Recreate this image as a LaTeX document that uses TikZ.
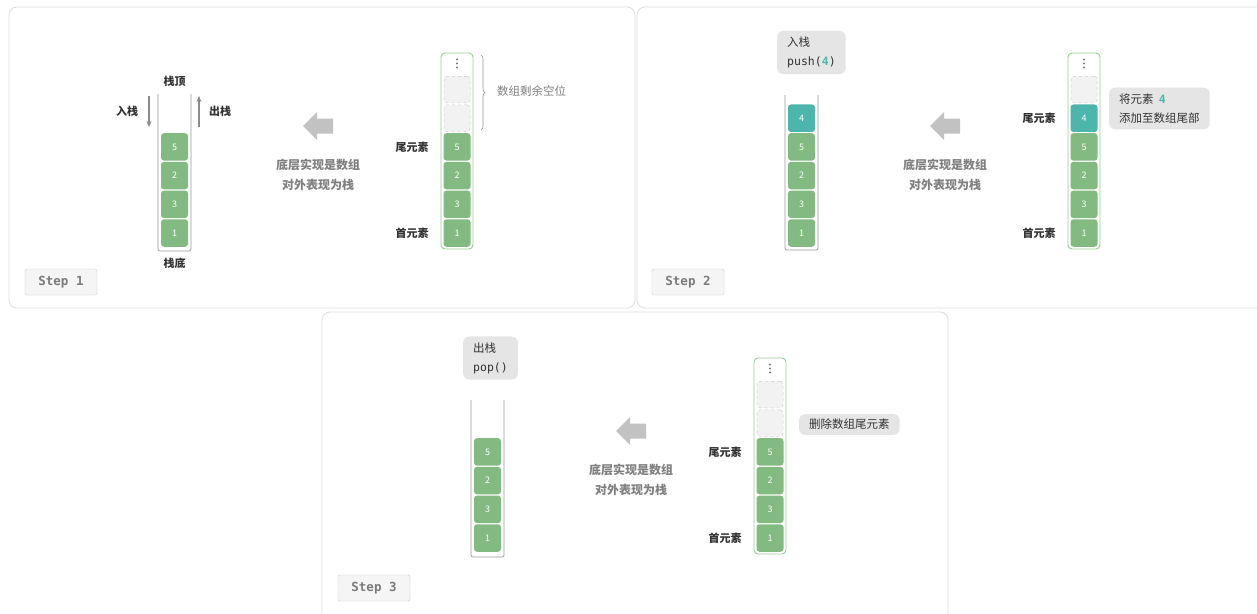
\documentclass[tikz,border=0pt]{standalone}
\usepackage{fontspec}
\setmainfont{Noto Sans CJK SC}
\newfontfamily\monof{DejaVu Sans Mono}
\usetikzlibrary{decorations.pathreplacing,arrows.meta}
\definecolor{cellgreen}{HTML}{82BA82}
\definecolor{cellteal}{HTML}{4DB6AC}
\definecolor{arrgreen}{HTML}{94CC92}
\definecolor{panelgray}{HTML}{DDDDDD}
\definecolor{emptyfill}{HTML}{F2F2F2}
\definecolor{emptydraw}{HTML}{CCCCCC}
\definecolor{notefill}{HTML}{E5E5E5}
\definecolor{labeltext}{HTML}{333333}
\definecolor{graytext}{HTML}{808080}
\definecolor{arrowfill}{HTML}{C2C2C2}
\definecolor{stackline}{HTML}{9A9A9A}
\definecolor{flowgray}{HTML}{8A8A8A}
\definecolor{dotgray}{HTML}{777777}
\definecolor{stepfill}{HTML}{F5F5F5}
\definecolor{steptext}{HTML}{7A7A7A}
\begin{document}
\begin{tikzpicture}[x=1pt,y=-1pt,
  panel/.style={draw=panelgray, line width=0.8pt, rounded corners=8pt, fill=white},
  cell/.style={rounded corners=3pt, fill=cellgreen, minimum width=27pt, minimum height=27.5pt, inner sep=0pt, text=white, font=\fontsize{9}{9}\selectfont},
  tealcell/.style={cell, fill=cellteal},
  emptycell/.style={rounded corners=3pt, fill=emptyfill, draw=emptydraw, dashed, line width=0.5pt, minimum width=26pt, minimum height=26.5pt, inner sep=0pt},
  arraybox/.style={draw=arrgreen, line width=0.9pt, rounded corners=4pt, fill=white},
  stackbox/.style={draw=stackline, line width=0.7pt, rounded corners=2pt},
  tag/.style={text=labeltext, font=\bfseries\fontsize{11}{13}\selectfont, inner sep=0pt},
  graylabel/.style={text=graytext, font=\fontsize{11.5}{14}\selectfont, inner sep=0pt},
  bigtext/.style={text=graytext, font=\bfseries\fontsize{12}{20}\selectfont, align=center, inner sep=0pt},
  note/.style={fill=notefill, rounded corners=6pt, align=left, anchor=west, inner xsep=10pt, inner ysep=6pt, text=labeltext, font=\fontsize{11.5}{19}\selectfont},
  steplabel/.style={draw=emptydraw, fill=stepfill, rounded corners=2pt, minimum width=72pt, minimum height=26pt, inner sep=0pt, text=steptext, font=\monof\bfseries\fontsize{12.5}{12.5}\selectfont},
  flowarrow/.style={draw=flowgray, line width=1.1pt, -{Stealth[length=6pt,width=5pt]}},
  bigarrow/.pic={\fill[arrowfill] (-15,0) -- (-1,-14) -- (-1,-7.5) -- (15,-7.5) -- (15,7.5) -- (-1,7.5) -- (-1,14) -- cycle;},
  vdots/.pic={\fill[dotgray] (0,-4) circle (1.1pt) (0,0) circle (1.1pt) (0,4) circle (1.1pt);}
]
\useasboundingbox (0,0) rectangle (1257,613);

% ---------- panels ----------
\draw[panel] (9,7) rectangle (635,308);
\draw[panel] (637,7) rectangle (1268,308);
\draw[panel] (322,312) rectangle (948,622);

% ================= Step 1 =================
\draw[stackbox] (158,94) -- (158,251) -- (191,251) -- (191,94);
\node[cell] (a5) at (174.5,146.9) {5};
\node[cell] (a2) at (174.5,175.6) {2};
\node[cell] (a3) at (174.5,204.3) {3};
\node[cell] (a1) at (174.5,233) {1};
\node[tag] (top1) at (174.5,81) {栈顶};
\node[tag] (bot1) at (174.5,263.5) {栈底};
\node[tag] (in1) at (127,111) {入栈};
\node[tag] (out1) at (220,111) {出栈};
\coordinate (inA) at (149,96);
\coordinate (inB) at (149,127);
\coordinate (outA) at (199,127);
\coordinate (outB) at (199,96);
\draw[flowarrow] (inA) -- (inB);
\draw[flowarrow] (outA) -- (outB);

\pic at (318,126) {bigarrow};
\node[bigtext] (txt1) at (318,175) {底层实现是数组\\对外表现为栈};

\draw[arraybox] (441,53) rectangle (473,249);
\pic at (457,63.5) {vdots};
\node[emptycell] (e1a) at (457,89.5) {};
\node[emptycell] (e1b) at (457,118.2) {};
\node[cell] (b5) at (457,146.9) {5};
\node[cell] (b2) at (457,175.6) {2};
\node[cell] (b3) at (457,204.3) {3};
\node[cell] (b1) at (457,233) {1};
\node[tag] (tail1) at (412,147) {尾元素};
\node[tag] (head1) at (412,233) {首元素};
\coordinate (br1) at (481,55);
\coordinate (br2) at (481,130);
\draw[stackline, line width=0.6pt, decorate, decoration={brace, amplitude=4pt}] (br1) -- (br2);
\node[graylabel, anchor=west] (free1) at (497,91) {数组剩余空位};

\node[steplabel] (step1) at (61,282) {Step 1};

% ================= Step 2 =================
\node[note] (push) at (777,52.5) {入栈\\{\monof push(}{\monof\bfseries\color{cellteal}4}{\monof )}};
\draw[stackbox] (785,95) -- (785,250) -- (818,250) -- (818,95);
\node[tealcell] (c4) at (801.5,118.2) {4};
\node[cell] (c5) at (801.5,146.9) {5};
\node[cell] (c2) at (801.5,175.6) {2};
\node[cell] (c3) at (801.5,204.3) {3};
\node[cell] (c1) at (801.5,233) {1};

\pic at (945,126) {bigarrow};
\node[bigtext] (txt2) at (945,175) {底层实现是数组\\对外表现为栈};

\draw[arraybox] (1068,53) rectangle (1100,249);
\pic at (1084,63.5) {vdots};
\node[emptycell] (e2a) at (1084,89.5) {};
\node[tealcell] (d4) at (1084,118.2) {4};
\node[cell] (d5) at (1084,146.9) {5};
\node[cell] (d2) at (1084,175.6) {2};
\node[cell] (d3) at (1084,204.3) {3};
\node[cell] (d1) at (1084,233) {1};
\node[tag] (tail2) at (1039,118.2) {尾元素};
\node[tag] (head2) at (1039,233) {首元素};
\node[note] (add) at (1109,108.5) {将元素\ \ {\monof\bfseries\color{cellteal}4}\\添加至数组尾部};

\node[steplabel] (step2) at (688,282) {Step 2};

% ================= Step 3 =================
\node[note] (pop) at (463,358) {出栈\\{\monof pop()}};
\draw[stackbox] (471,400) -- (471,557) -- (504,557) -- (504,400);
\node[cell] (f5) at (487.5,451.9) {5};
\node[cell] (f2) at (487.5,480.6) {2};
\node[cell] (f3) at (487.5,509.3) {3};
\node[cell] (f1) at (487.5,538) {1};

\pic at (631,431) {bigarrow};
\node[bigtext] (txt3) at (631,480) {底层实现是数组\\对外表现为栈};

\draw[arraybox] (754,358) rectangle (786,554);
\pic at (770,368.5) {vdots};
\node[emptycell] (g1a) at (770,394.5) {};
\node[emptycell] (g1b) at (770,423.2) {};
\node[cell] (g5) at (770,451.9) {5};
\node[cell] (g2) at (770,480.6) {2};
\node[cell] (g3) at (770,509.3) {3};
\node[cell] (g1) at (770,538) {1};
\node[tag] (tail3) at (725,452) {尾元素};
\node[tag] (head3) at (725,538) {首元素};
\node[note, inner ysep=5pt] (del) at (799,424.5) {删除数组尾元素};

\node[steplabel] (step3) at (374,588) {Step 3};
\end{tikzpicture}
\end{document}
